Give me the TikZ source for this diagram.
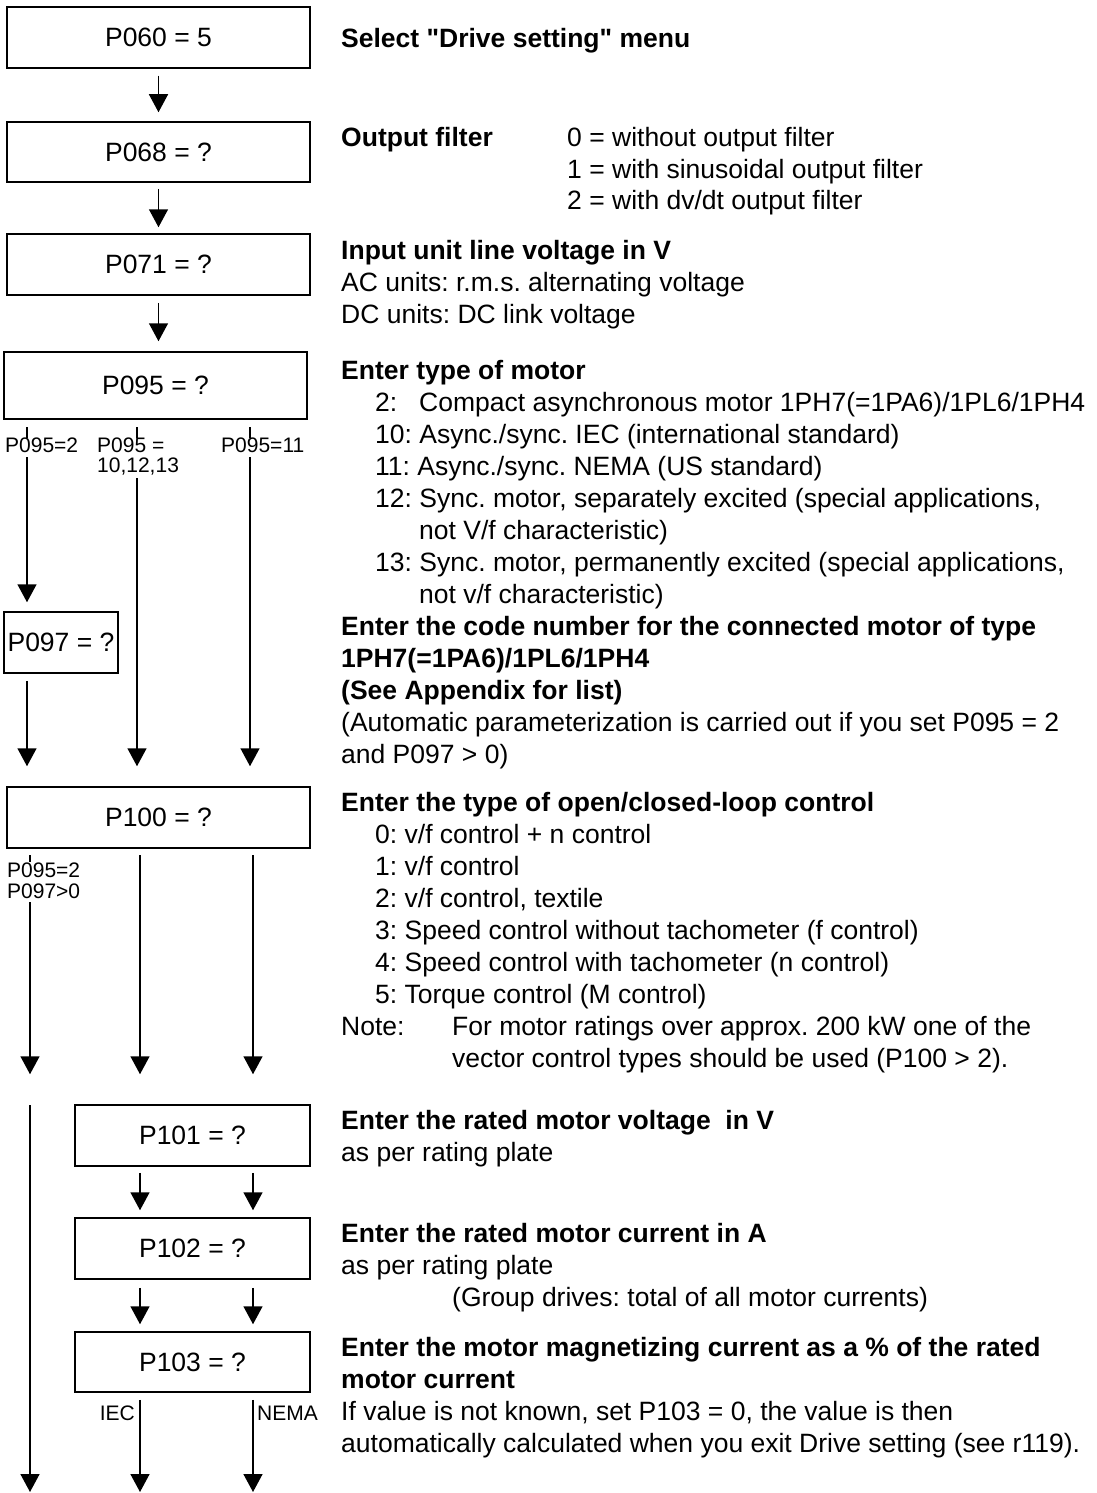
\documentclass[tikz,border=0pt]{standalone}
\usepackage{fontspec}
\setmainfont{Liberation Sans}
\usetikzlibrary{arrows.meta}
\frenchspacing
\begin{document}
\begin{tikzpicture}[x=1pt,y=-1pt,
  ln/.style={line width=1.5pt},
  arr/.style={line width=1.5pt,-{Triangle[length=18pt,width=19pt]}},
  box/.style={draw,line width=1.5pt,rectangle,inner sep=0pt,font=\fontsize{26.5}{32}\selectfont},
  tx/.style={anchor=base west,inner sep=0pt,font=\fontsize{26.5}{32}\selectfont},
  bx/.style={tx,font=\fontsize{26.5}{32}\selectfont\bfseries},
  lb/.style={anchor=base west,inner sep=0pt,font=\fontsize{21}{22}\selectfont},
]
\useasboundingbox (0,0) rectangle (1096,1493);

% boxes
\node[box,minimum width=303pt,minimum height=61pt] (p060) at (158.5,37.5) {P060 = 5};
\node[box,minimum width=303pt,minimum height=60pt] (p068) at (158.5,152) {P068 = ?};
\node[box,minimum width=303pt,minimum height=61pt] (p071) at (158.5,264.5) {P071 = ?};
\node[box,minimum width=303pt,minimum height=67pt] (p095) at (155.5,385.5) {P095 = ?};
\node[box,minimum width=114pt,minimum height=61pt] (p097) at (61,642.5) {P097 = ?};
\node[box,minimum width=303pt,minimum height=61pt] (p100) at (158.5,817.5) {P100 = ?};
\node[box,minimum width=235pt,minimum height=61pt] (p101) at (192.5,1135.5) {P101 = ?};
\node[box,minimum width=235pt,minimum height=61pt] (p102) at (192.5,1248.5) {P102 = ?};
\node[box,minimum width=235pt,minimum height=60pt] (p103) at (192.5,1362) {P103 = ?};

% top arrows
\draw[arr,shorten <=7pt,shorten >=9pt] (p060) -- (p068);
\draw[arr,shorten <=6pt,shorten >=6pt] (p068) -- (p071);
\draw[arr,shorten <=7pt,shorten >=10pt] (p071.south) -- (p071.south |- p095.north);

% branches below P095
\coordinate (ta1) at (27,427);  \coordinate (ta2) at (27,438);
\coordinate (tb1) at (137,427); \coordinate (tb2) at (137,438);
\coordinate (tc1) at (250,427); \coordinate (tc2) at (250,438);
\draw[ln] (ta1) -- (ta2);
\draw[ln] (tb1) -- (tb2);
\draw[ln] (tc1) -- (tc2);
\node[lb] (l1) at (5,452.5) {P095=2};
\node[lb] (l2) at (97,452.5) {P095 =};
\node[lb] (l3) at (97,472) {10,12,13};
\node[lb] (l4) at (221,452.5) {P095=11};
\coordinate (sa) at (27,457);
\coordinate (sb) at (137,478);
\coordinate (sc) at (250,457);
\draw[arr,shorten >=9pt] (sa) -- (sa |- p097.north);
\draw[arr,shorten <=7pt,shorten >=20pt] (p097.south -| sa) -- (sa |- p100.north);
\draw[arr,shorten >=20pt] (sb) -- (sb |- p100.north);
\draw[arr,shorten >=20pt] (sc) -- (sc |- p100.north);

% branches below P100
\coordinate (ua1) at (30,855); \coordinate (ua2) at (30,862);
\draw[ln] (ua1) -- (ua2);
\node[lb] (l5) at (7,877) {P095=2};
\node[lb] (l6) at (7,898.5) {P097>0};
\coordinate (va) at (30,902);
\coordinate (ub) at (140,848);
\coordinate (uc) at (253,848);
\draw[arr,shorten >=30pt] (va) -- (va |- p101.north);
\draw[arr,shorten <=7pt,shorten >=30pt] (ub) -- (ub |- p101.north);
\draw[arr,shorten <=7pt,shorten >=30pt] (uc) -- (uc |- p101.north);

% left bypass
\coordinate (wa) at (30,1105);
\coordinate (wend) at (30,1492);
\draw[arr] (wa) -- (wend);

% P101 -> P102 -> P103 -> out
\draw[arr,shorten <=6pt,shorten >=7pt] (ub |- p101.south) -- (ub |- p102.north);
\draw[arr,shorten <=6pt,shorten >=7pt] (uc |- p101.south) -- (uc |- p102.north);
\draw[arr,shorten <=8pt,shorten >=7pt] (ub |- p102.south) -- (ub |- p103.north);
\draw[arr,shorten <=8pt,shorten >=7pt] (uc |- p102.south) -- (uc |- p103.north);
\coordinate (eb) at (140,1492);
\coordinate (ec) at (253,1492);
\draw[arr,shorten <=7pt] (ub |- p103.south) -- (eb);
\draw[arr,shorten <=7pt] (uc |- p103.south) -- (ec);
\node[lb,anchor=base east] (iec) at (135,1420) {IEC};
\node[lb] (nema) at (257,1420) {NEMA};

% right-hand texts
\node[bx] (r1) at (341,47.5) {Select \textquotedbl Drive setting\textquotedbl\ menu};

\node[bx] (r2a) at (341,146.5) {Output filter};
\node[tx] (r2b) at (567,146.5) {0 = without output filter};
\node[tx] (r2c) at (567,178) {1 = with sinusoidal output filter};
\node[tx] (r2d) at (567,209.5) {2 = with dv/dt output filter};

\node[bx] (r3a) at (341,259.5) {Input unit line voltage in V};
\node[tx] (r3b) at (341,291.5) {AC units: r.m.s. alternating voltage};
\node[tx] (r3c) at (341,323) {DC units: DC link voltage};

\node[bx] (r4a) at (341,379.5) {Enter type of motor};
\node[tx] (r4b) at (375,411.5) {\makebox[44pt][l]{2:}Compact asynchronous motor 1PH7(=1PA6)/1PL6/1PH4};
\node[tx] (r4c) at (375,443.5) {10: Async./sync. IEC (international standard)};
\node[tx] (r4d) at (375,475.5) {11: Async./sync. NEMA (US standard)};
\node[tx] (r4e) at (375,507.5) {12: Sync. motor, separately excited (special applications,};
\node[tx] (r4f) at (419,539.5) {not V/f characteristic)};
\node[tx] (r4g) at (375,571.5) {13: Sync. motor, permanently excited (special applications,};
\node[tx] (r4h) at (419,603.5) {not v/f characteristic)};
\node[bx] (r4i) at (341,635.5) {Enter the code number for the connected motor of type};
\node[bx] (r4j) at (341,667.5) {1PH7(=1PA6)/1PL6/1PH4};
\node[bx] (r4k) at (341,699.5) {(See Appendix for list)};
\node[tx] (r4l) at (341,731.5) {(Automatic parameterization is carried out if you set P095 = 2};
\node[tx] (r4m) at (341,763.5) {and P097 > 0)};

\node[bx] (r5a) at (341,811.5) {Enter the type of open/closed-loop control};
\node[tx] (r5b) at (375,843.5) {0: v/f control + n control};
\node[tx] (r5c) at (375,875.5) {1: v/f control};
\node[tx] (r5d) at (375,907.5) {2: v/f control, textile};
\node[tx] (r5e) at (375,939.5) {3: Speed control without tachometer (f control)};
\node[tx] (r5f) at (375,971.5) {4: Speed control with tachometer (n control)};
\node[tx] (r5g) at (375,1003.5) {5: Torque control (M control)};
\node[tx] (r5h) at (341,1035.5) {Note:};
\node[tx] (r5i) at (452,1035.5) {For motor ratings over approx. 200 kW one of the};
\node[tx] (r5j) at (452,1067.5) {vector control types should be used (P100 > 2).};

\node[bx] (r6a) at (341,1129.5) {Enter the rated motor voltage\ \ in V};
\node[tx] (r6b) at (341,1161.5) {as per rating plate};

\node[bx] (r7a) at (341,1242.5) {Enter the rated motor current in A};
\node[tx] (r7b) at (341,1274.5) {as per rating plate};
\node[tx] (r7c) at (452,1306.5) {(Group drives: total of all motor currents)};

\node[bx] (r8a) at (341,1356.5) {Enter the motor magnetizing current as a \% of the rated};
\node[bx] (r8b) at (341,1388.5) {motor current};
\node[tx] (r8c) at (341,1420.5) {If value is not known, set P103 = 0, the value is then};
\node[tx] (r8d) at (341,1452.5) {automatically calculated when you exit Drive setting (see r119).};
\end{tikzpicture}
\end{document}
